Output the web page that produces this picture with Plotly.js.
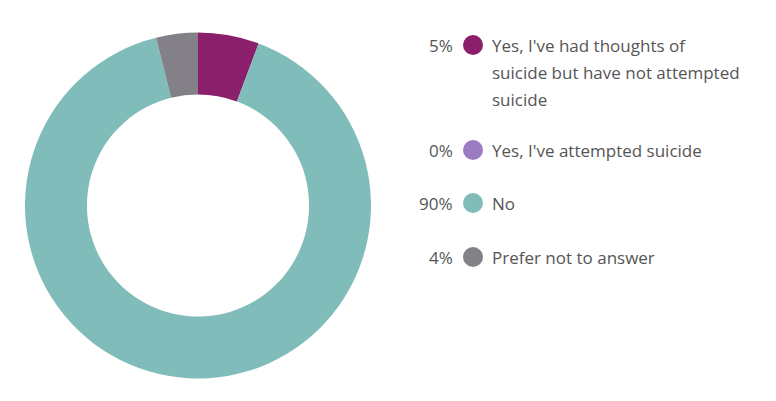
<!DOCTYPE html>
<html>
<head>
<meta charset="utf-8">
<script src="https://cdn.plot.ly/plotly-3.0.1.min.js"></script>
<style>html,body{margin:0;padding:0;background:#fff;}#chart{width:776px;height:401px;}</style>
</head>
<body>
<div id="chart"></div>
<script>
// Data
var categories = ["Yes, I've had thoughts of suicide but have not attempted suicide", "Yes, I've attempted suicide", "No", "Prefer not to answer"];
var values = [5.7, 0, 90.4, 3.9];
var percentLabels = ["5%", "0%", "90%", "4%"];
var legendLines = [["Yes, I've had thoughts of", "suicide but have not attempted", "suicide"], ["Yes, I've attempted suicide"], ["No"], ["Prefer not to answer"]];
var colors = ["#8C1F6B", "#9C7BC3", "#80BDBA", "#838088"];

// Layout (pixels)
var W = 776, H = 401;
var rowY = [45, 150, 203, 257];
var lineGap = 27;
var fontFam = "'Open Sans', Lato, sans-serif";
var textColor = "#555555";

var pie = {
  type: 'pie',
  labels: categories,
  values: values,
  marker: {colors: colors, line: {width: 0}},
  hole: 0.642,
  sort: false,
  direction: 'clockwise',
  rotation: 0,
  textinfo: 'none',
  hoverinfo: 'label+percent',
  showlegend: false,
  domain: {x: [25 / W, 371 / W], y: [1 - 378.5 / H, 1 - 32.5 / H]}
};

var legendDots = {
  type: 'scatter',
  mode: 'markers',
  x: categories.map(function(){ return 473; }),
  y: rowY,
  marker: {size: 20, color: colors, line: {width: 0}},
  hoverinfo: 'skip',
  showlegend: false,
  cliponaxis: false
};

var annotations = [];
categories.forEach(function(c, i) {
  annotations.push({
    x: 455, y: rowY[i], xref: 'x', yref: 'y', xanchor: 'right', yanchor: 'middle',
    text: percentLabels[i], showarrow: false,
    font: {family: fontFam, size: 17, color: textColor}
  });
  legendLines[i].forEach(function(line, j) {
    annotations.push({
      x: 490, y: rowY[i] + j * lineGap, xref: 'x', yref: 'y', xanchor: 'left', yanchor: 'middle',
      text: line, showarrow: false,
      font: {family: fontFam, size: 17, color: textColor}
    });
  });
});

var layout = {
  width: W, height: H,
  margin: {l: 0, r: 0, t: 0, b: 0, pad: 0},
  paper_bgcolor: '#ffffff', plot_bgcolor: 'rgba(0,0,0,0)',
  xaxis: {range: [0, W], domain: [0, 1], visible: false, fixedrange: true},
  yaxis: {range: [H, 0], domain: [0, 1], visible: false, fixedrange: true},
  annotations: annotations,
  showlegend: false
};

Plotly.newPlot('chart', [pie, legendDots], layout, {displayModeBar: false, staticPlot: true});
</script>
</body>
</html>
